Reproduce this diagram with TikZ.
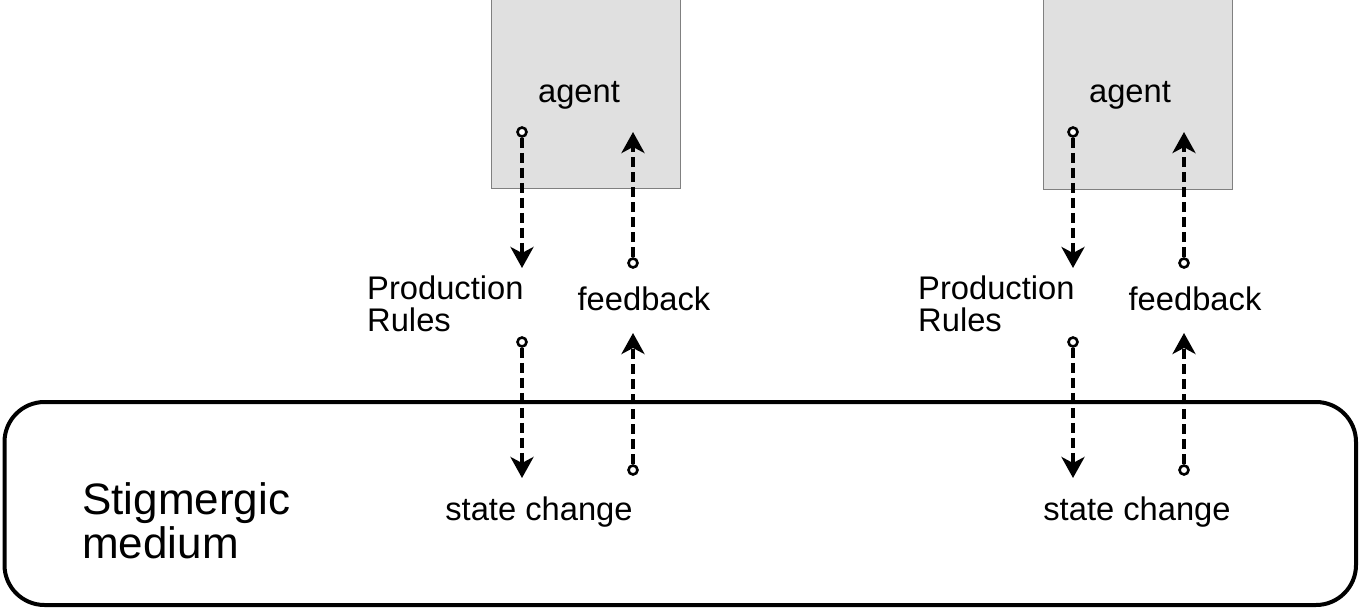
\documentclass[tikz,border=0pt]{standalone}
\usepackage{fontspec}
\setmainfont{Liberation Sans}
\usetikzlibrary{arrows.meta}
\begin{document}
\begin{tikzpicture}[x=1pt,y=-1pt,
  agentbox/.style={draw=black!50,line width=0.9pt,fill=black!12},
  lbl/.style={font=\fontsize{32.7}{33}\selectfont,inner sep=0pt},
  biglbl/.style={font=\fontsize{44}{48}\selectfont,inner sep=0pt,align=left},
  dotc/.style={circle,draw=black,line width=2.6pt,fill=white,minimum size=9pt,inner sep=0pt},
  flow/.style={line width=3.6pt,dash pattern=on 10pt off 5pt,-{Stealth[length=21pt,width=23pt,inset=6pt]}}
]
\useasboundingbox (0,0) rectangle (1360,610);
% medium
\draw[line width=4pt,rounded corners=40pt] (4.5,402) rectangle (1356,605);
\node[biglbl,anchor=west] (med) at (82,521) {Stigmergic\\[-4pt]medium};
% agent boxes
\draw[agentbox] (491.5,-2) rectangle (680,188);
\draw[agentbox] (1043,-2) rectangle (1232,189);
\node[lbl] (ag1) at (579,95) {agent};
\node[lbl] (ag2) at (1130,95) {agent};
% labels
\node[lbl,anchor=west,align=left] (pr1) at (367,304) {Production\\[-1pt]Rules};
\node[lbl,anchor=west,align=left] (pr2) at (918,304) {Production\\[-1pt]Rules};
\node[lbl] (fb1) at (644,299) {feedback};
\node[lbl] (fb2) at (1195,299) {feedback};
\node[lbl] (sc1) at (539,512) {state change};
\node[lbl] (sc2) at (1137,512) {state change};
% flows
\foreach \s/\xa/\xb in {L/522/633, R/1073/1184}{
  \node[dotc] (d1\s) at (\xa,132) {};
  \coordinate (t1\s) at (\xa,268);
  \draw[flow] (d1\s.south) -- (t1\s);
  \node[dotc] (d2\s) at (\xb,263) {};
  \coordinate (t2\s) at (\xb,132);
  \draw[flow] (d2\s.north) -- (t2\s);
  \node[dotc] (d3\s) at (\xa,342) {};
  \coordinate (t3\s) at (\xa,478);
  \draw[flow] (d3\s.south) -- (t3\s);
  \node[dotc] (d4\s) at (\xb,470) {};
  \coordinate (t4\s) at (\xb,333);
  \draw[flow] (d4\s.north) -- (t4\s);
}
\end{tikzpicture}
\end{document}
